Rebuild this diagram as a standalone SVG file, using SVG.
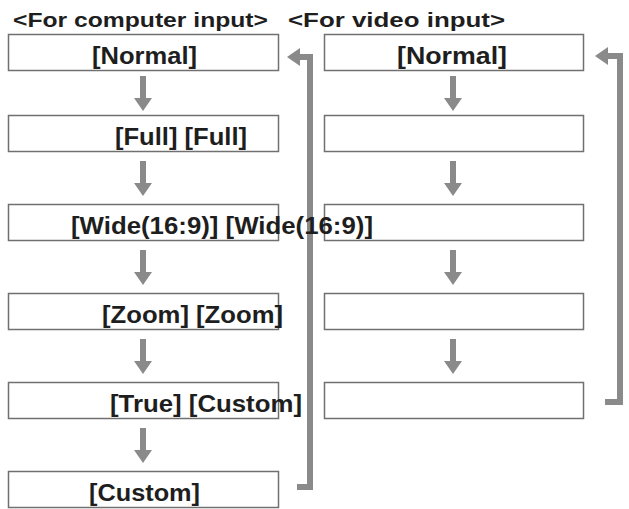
<svg xmlns="http://www.w3.org/2000/svg" width="629" height="509" viewBox="0 0 629 509">
<style>
.box{fill:#fff;stroke:#707070;stroke-width:1.5}
.t{font-family:"Liberation Sans",Arial,sans-serif;font-weight:bold;fill:#1e1e1e}
.title{font-size:21px}
.lbl{font-size:23px}
.ln{fill:none;stroke:#8a8a8a;stroke-width:6}
.ah{fill:#8a8a8a}
</style>
<defs>
<path id="down" d="M-3,0 H3 V22 H9 L0,35 L-9,22 H-3 Z"/>
</defs>
<rect width="629" height="509" fill="#fff"/>
<g id="titles">
<text class="t title" x="13" y="27" textLength="255" lengthAdjust="spacingAndGlyphs">&lt;For computer input&gt;</text>
<text class="t title" x="288" y="27" textLength="217" lengthAdjust="spacingAndGlyphs">&lt;For video input&gt;</text>
</g>
<g id="right-normal"><rect class="box" x="324.5" y="34.5" width="259" height="36"/><text class="t lbl" x="397" y="64" textLength="110" lengthAdjust="spacingAndGlyphs">[Normal]</text></g>
<g id="right-2"><rect class="box" x="324.5" y="115.5" width="259" height="36"/></g>
<g id="right-3"><rect class="box" x="324.5" y="204.5" width="259" height="36"/></g>
<g id="right-4"><rect class="box" x="324.5" y="293.5" width="259" height="36"/></g>
<g id="right-5"><rect class="box" x="324.5" y="382.5" width="259" height="36"/></g>
<g id="connectors">
<use href="#down" class="ah" x="143" y="76"/>
<use href="#down" class="ah" x="143" y="161"/>
<use href="#down" class="ah" x="143" y="250"/>
<use href="#down" class="ah" x="143" y="339"/>
<use href="#down" class="ah" x="143" y="428"/>
<use href="#down" class="ah" x="453" y="76"/>
<use href="#down" class="ah" x="453" y="161"/>
<use href="#down" class="ah" x="453" y="250"/>
<use href="#down" class="ah" x="453" y="339"/>
<path class="ln" d="M297,487 H310 V57 H298"/>
<polygon class="ah" points="287,57 300,48 300,66"/>
<path class="ln" d="M605,402 H620 V56 H606"/>
<polygon class="ah" points="595,56 608,47 608,65"/>
</g>
<g id="left-normal"><rect class="box" x="8.5" y="34.5" width="270" height="36"/><text class="t lbl" x="92" y="64" textLength="105" lengthAdjust="spacingAndGlyphs">[Normal]</text></g>
<g id="left-full"><rect class="box" x="8.5" y="115.5" width="270" height="36"/><text class="t lbl" x="115" y="145" textLength="132" lengthAdjust="spacingAndGlyphs">[Full] [Full]</text></g>
<g id="left-wide"><rect class="box" x="8.5" y="204.5" width="270" height="36"/><text class="t lbl" x="71" y="234" textLength="302" lengthAdjust="spacingAndGlyphs">[Wide(16:9)] [Wide(16:9)]</text></g>
<g id="left-zoom"><rect class="box" x="8.5" y="293.5" width="270" height="36"/><text class="t lbl" x="102" y="323" textLength="181" lengthAdjust="spacingAndGlyphs">[Zoom] [Zoom]</text></g>
<g id="left-true"><rect class="box" x="8.5" y="382.5" width="270" height="36"/><text class="t lbl" x="110" y="412" textLength="192" lengthAdjust="spacingAndGlyphs">[True] [Custom]</text></g>
<g id="left-custom"><rect class="box" x="8.5" y="471.5" width="270" height="36"/><text class="t lbl" x="89" y="501" textLength="111" lengthAdjust="spacingAndGlyphs">[Custom]</text></g>
</svg>
